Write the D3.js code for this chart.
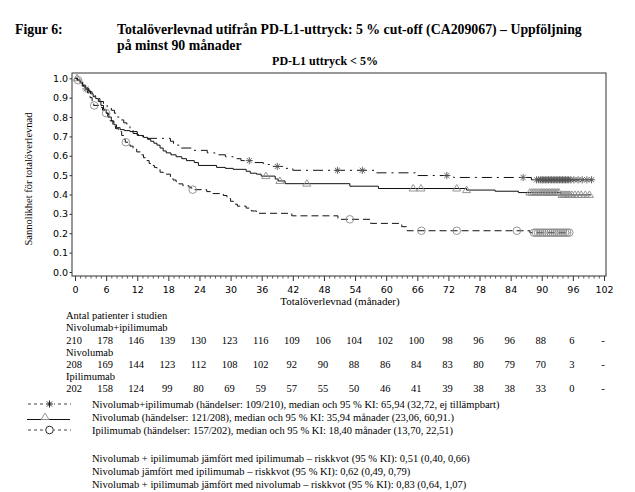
<!DOCTYPE html>
<html>
<head>
<meta charset="utf-8">
<script src="https://cdn.jsdelivr.net/npm/d3@7"></script>
<style>
  body { margin: 0; background: #fff; }
  text { font-family: "Liberation Serif", "Times New Roman", serif; fill: #000; }
  .tick text { font-family: "DejaVu Sans", Verdana, sans-serif; }
</style>
</head>
<body>
<svg id="chart" width="635" height="492"></svg>
<script>
// ticks
const xTicks = [0, 6, 12, 18, 24, 30, 36, 42, 48, 54, 60, 66, 72, 78, 84, 90, 96, 102];
const yTicks = [0, 0.1, 0.2, 0.3, 0.4, 0.5, 0.6, 0.7, 0.8, 0.9, 1.0];

// Kaplan-Meier steps (months, survival)
const combTimes = [0, 0.5, 1.0, 1.5, 2.0, 2.7, 3.3, 4.0, 4.8, 5.5, 6.2, 7.0, 7.6, 8.2, 8.8, 9.4, 10.0, 10.6, 11.2, 12.0, 13.0, 13.8, 18.4, 19.0, 20.2, 22.5, 25.5, 27.0, 29.0, 30.5, 32.0, 34.5, 36.3, 37.5, 40.5, 42.0, 58.0, 65.9, 73.0, 88.0, 99.8];
const combSurv  = [1.0, 0.99, 0.975, 0.96, 0.945, 0.93, 0.91, 0.895, 0.88, 0.865, 0.85, 0.835, 0.82, 0.80, 0.785, 0.77, 0.755, 0.74, 0.725, 0.71, 0.70, 0.69, 0.675, 0.655, 0.64, 0.628, 0.615, 0.605, 0.595, 0.585, 0.575, 0.565, 0.555, 0.545, 0.535, 0.525, 0.512, 0.498, 0.488, 0.476, 0.476];
const combCens  = [2.1, 33.6, 39.0, 50.6, 55.4, 71.7, 86.4, 89.0, 89.4, 89.8, 90.1, 90.4, 90.7, 91.0, 91.3, 91.6, 91.9, 92.2, 92.5, 92.8, 93.1, 93.4, 93.7, 94.0, 94.3, 94.6, 94.9, 95.2, 95.6, 96.2, 97.0, 97.8, 98.7, 99.6];

const nivoTimes = [0, 0.5, 1.0, 1.5, 2.0, 2.6, 3.0, 3.5, 4.0, 4.5, 5.0, 5.5, 6.0, 6.5, 7.0, 7.5, 8.0, 8.7, 9.5, 10.6, 11.2, 12.0, 13.2, 14.0, 14.6, 15.2, 15.8, 16.4, 17.0, 17.6, 18.5, 19.5, 20.6, 21.5, 23.0, 23.8, 27.3, 29.0, 30.5, 33.0, 33.8, 35.0, 35.9, 38.6, 39.2, 40.5, 53.0, 58.5, 75.5, 81.0, 85.5, 93.7, 99.5];
const nivoSurv  = [1.0, 0.99, 0.98, 0.965, 0.95, 0.935, 0.92, 0.905, 0.895, 0.88, 0.86, 0.84, 0.82, 0.80, 0.78, 0.76, 0.745, 0.735, 0.73, 0.725, 0.715, 0.705, 0.695, 0.685, 0.675, 0.665, 0.655, 0.64, 0.625, 0.615, 0.605, 0.595, 0.585, 0.575, 0.565, 0.55, 0.54, 0.535, 0.53, 0.52, 0.51, 0.505, 0.495, 0.48, 0.47, 0.456, 0.443, 0.431, 0.423, 0.417, 0.41, 0.398, 0.398];
const nivoCens  = [0.4, 36.8, 39.5, 44.7, 65.2, 66.7, 73.6, 75.5, 87.7, 88.1, 88.5, 88.9, 89.3, 89.7, 90.0, 90.3, 90.6, 90.9, 91.2, 91.5, 91.8, 92.1, 92.4, 92.7, 93.0, 93.3, 93.9, 94.2, 94.5, 94.8, 95.1, 95.4, 95.8, 96.4, 97.0, 97.6, 98.4, 99.2];

const ipiTimes = [0, 0.4, 0.9, 1.4, 1.9, 2.4, 2.9, 3.3, 3.6, 4.8, 5.3, 5.8, 6.3, 6.8, 7.3, 7.8, 8.4, 9.0, 9.5, 9.7, 10.6, 11.2, 11.9, 12.6, 13.2, 13.8, 14.3, 14.8, 15.3, 15.8, 16.4, 17.0, 18.4, 18.9, 19.5, 20.0, 20.8, 22.0, 22.5, 25.4, 26.3, 28.6, 29.3, 30.0, 30.6, 31.3, 33.0, 34.0, 35.0, 41.8, 50.7, 57.0, 63.0, 64.0, 87.7, 95.5];
const ipiSurv  = [1.0, 0.99, 0.975, 0.96, 0.945, 0.925, 0.90, 0.875, 0.86, 0.85, 0.835, 0.82, 0.80, 0.78, 0.755, 0.74, 0.725, 0.705, 0.685, 0.67, 0.65, 0.635, 0.62, 0.605, 0.59, 0.575, 0.56, 0.55, 0.54, 0.53, 0.515, 0.505, 0.49, 0.475, 0.465, 0.455, 0.445, 0.435, 0.425, 0.415, 0.405, 0.395, 0.38, 0.365, 0.35, 0.34, 0.33, 0.315, 0.303, 0.29, 0.272, 0.251, 0.234, 0.213, 0.203, 0.203];
const ipiCens  = [0.6, 3.7, 6.0, 9.8, 22.7, 53.0, 66.8, 73.6, 85.2, 88.5, 88.9, 89.3, 89.7, 90.1, 90.5, 90.9, 91.3, 91.7, 92.1, 92.5, 92.9, 93.3, 93.7, 94.1, 94.5, 94.9, 95.3];

// numbers at risk
const atRiskComb = ["210", "178", "146", "139", "130", "123", "116", "109", "106", "104", "102", "100", "98", "96", "96", "88", "6", "-"];
const atRiskNivo = ["208", "169", "144", "123", "112", "108", "102", "92", "90", "88", "86", "84", "83", "80", "79", "70", "3", "-"];
const atRiskIpi  = ["202", "158", "124", "99", "80", "69", "59", "57", "55", "50", "46", "41", "39", "38", "38", "33", "0", "-"];

const legendTexts = [
  "Nivolumab+ipilimumab (händelser: 109/210), median och 95 % KI: 65,94 (32,72, ej tillämpbart)",
  "Nivolumab (händelser: 121/208), median och 95 % KI: 35,94 månader (23,06, 60,91.)",
  "Ipilimumab (händelser: 157/202), median och 95 % KI: 18,40 månader (13,70, 22,51)"
];
const hazardTexts = [
  "Nivolumab + ipilimumab jämfört med ipilimumab – riskkvot (95 % KI): 0,51 (0,40, 0,66)",
  "Nivolumab jämfört med ipilimumab – riskkvot (95 % KI): 0,62 (0,49, 0,79)",
  "Nivolumab + ipilimumab jämfört med nivolumab – riskkvot (95 % KI): 0,83 (0,64, 1,07)"
];

const svg = d3.select("#chart");

const x = d3.scaleLinear().domain([0, 102]).range([75, 604]);
const y = d3.scaleLinear().domain([0, 1]).range([272, 78.3]);

const frame = { left: 72, top: 73, right: 606, bottom: 276 };
const markGray = "#8a8a8a";

// titles
svg.append("text").attr("x", 15).attr("y", 34)
  .style("font-weight", "bold").style("font-size", "13.8px").text("Figur 6:");
svg.append("text").attr("x", 117).attr("y", 34)
  .style("font-weight", "bold").style("font-size", "13.8px")
  .text("Totalöverlevnad utifrån PD-L1-uttryck: 5 % cut-off (CA209067) – Uppföljning");
svg.append("text").attr("x", 117).attr("y", 50)
  .style("font-weight", "bold").style("font-size", "13.8px").text("på minst 90 månader");
svg.append("text").attr("x", 325).attr("y", 65).attr("text-anchor", "middle")
  .style("font-weight", "bold").style("font-size", "12px").text("PD-L1 uttryck < 5%");

// frame
svg.append("rect")
  .attr("x", frame.left).attr("y", frame.top)
  .attr("width", frame.right - frame.left).attr("height", frame.bottom - frame.top)
  .attr("fill", "none").attr("stroke", "#333").attr("stroke-width", 1);

// x axis
const xAxis = svg.append("g")
  .attr("transform", `translate(0,${frame.bottom})`)
  .call(d3.axisBottom(x).tickValues(xTicks).tickSize(5).tickPadding(5.5).tickFormat(d3.format("d")));
xAxis.select(".domain").remove();
xAxis.selectAll(".tick line").attr("stroke", "#333");
xAxis.selectAll("text").style("font-size", "9.5px");

const minorTicks = d3.range(0, 103).filter(d => d % 6 !== 0);
const xMinor = svg.append("g")
  .attr("transform", `translate(0,${frame.bottom})`)
  .call(d3.axisBottom(x).tickValues(minorTicks).tickSize(2.5).tickFormat(""));
xMinor.select(".domain").remove();
xMinor.selectAll(".tick line").attr("stroke", "#555");

// y axis
const yAxis = svg.append("g")
  .attr("transform", `translate(${frame.left},0)`)
  .call(d3.axisLeft(y).tickValues(yTicks).tickSize(2.5).tickPadding(1.5).tickFormat(d3.format(".1f")));
yAxis.select(".domain").remove();
yAxis.selectAll(".tick line").attr("stroke", "#333");
yAxis.selectAll("text").style("font-size", "9.5px");

svg.append("text")
  .attr("transform", "translate(32,179) rotate(-90)")
  .attr("text-anchor", "middle").style("font-size", "10.5px")
  .text("Sannolikhet för totalöverlevnad");

svg.append("text").attr("x", 340).attr("y", 305).attr("text-anchor", "middle")
  .style("font-size", "11px").text("Totalöverlevnad (månader)");

// curves
function stepData(times, surv) {
  return times.map((t, i) => ({ t: t, s: surv[i] }));
}
function survAt(times, surv, t) {
  let s = surv[0];
  times.forEach((tt, i) => { if (tt <= t) s = surv[i]; });
  return s;
}

const line = d3.line()
  .x(d => x(d.t))
  .y(d => y(d.s))
  .curve(d3.curveStepAfter);

const series = [
  { key: "ipi", times: ipiTimes, surv: ipiSurv, cens: ipiCens, dash: "7,4", mark: "circle" },
  { key: "nivo", times: nivoTimes, surv: nivoSurv, cens: nivoCens, dash: null, mark: "triangle" },
  { key: "comb", times: combTimes, surv: combSurv, cens: combCens, dash: "10,5,2,5", mark: "star" }
];

const plot = svg.append("g");

series.forEach(s => {
  plot.append("path")
    .datum(stepData(s.times, s.surv))
    .attr("d", line)
    .attr("fill", "none")
    .attr("stroke", "#111")
    .attr("stroke-width", 1)
    .attr("stroke-dasharray", s.dash);
});

function drawMark(g, type, cx, cy, color) {
  if (type === "circle") {
    g.append("circle").attr("cx", cx).attr("cy", cy).attr("r", 3.8)
      .attr("fill", "none").attr("stroke", color).attr("stroke-width", 0.9);
  } else if (type === "triangle") {
    g.append("path")
      .attr("d", `M${cx - 4},${cy + 2.5}L${cx},${cy - 4}L${cx + 4},${cy + 2.5}Z`)
      .attr("fill", "none").attr("stroke", color).attr("stroke-width", 0.9);
  } else {
    const r = 3.6;
    const p = `M${cx - r},${cy}L${cx + r},${cy}M${cx},${cy - r}L${cx},${cy + r}` +
      `M${cx - r * 0.7},${cy - r * 0.7}L${cx + r * 0.7},${cy + r * 0.7}` +
      `M${cx - r * 0.7},${cy + r * 0.7}L${cx + r * 0.7},${cy - r * 0.7}`;
    g.append("path").attr("d", p).attr("fill", "none").attr("stroke", color).attr("stroke-width", 0.9);
  }
}

series.forEach(s => {
  const g = plot.append("g");
  s.cens.forEach(t => {
    drawMark(g, s.mark, x(t), y(survAt(s.times, s.surv, t)), s.mark === "star" ? "#555" : markGray);
  });
});

// numbers at risk
const tableRows = [
  { y: 319, label: "Antal patienter i studien" },
  { y: 331, label: "Nivolumab+ipilimumab" },
  { y: 344, values: atRiskComb },
  { y: 356, label: "Nivolumab" },
  { y: 368, values: atRiskNivo },
  { y: 380, label: "Ipilimumab" },
  { y: 392, values: atRiskIpi }
];

tableRows.forEach(r => {
  if (r.label) {
    svg.append("text").attr("x", 66).attr("y", r.y).style("font-size", "10.5px").text(r.label);
  } else {
    svg.append("g").selectAll("text")
      .data(r.values)
      .enter()
      .append("text")
      .attr("x", (d, i) => x(xTicks[i]) - 1)
      .attr("y", r.y)
      .attr("text-anchor", "middle")
      .style("font-size", "10.5px")
      .text(d => d);
  }
});

// legend
const legendY = [404, 417, 430];
const legendMarks = ["star", "triangle", "circle"];
legendMarks.forEach((m, i) => {
  const ly = legendY[i];
  const g = svg.append("g");
  if (m === "triangle") {
    g.append("line").attr("x1", 27).attr("x2", 70).attr("y1", ly + 2.5).attr("y2", ly + 2.5)
      .attr("stroke", "#111").attr("stroke-width", 1);
    drawMark(g, m, 45, ly, markGray);
    g.select("path").attr("fill", "#fff");
  } else {
    g.append("line").attr("x1", 28).attr("x2", 71).attr("y1", ly).attr("y2", ly)
      .attr("stroke", "#111").attr("stroke-width", 0.8).attr("stroke-dasharray", "3,3");
    g.append("rect").attr("x", 45).attr("y", ly - 5).attr("width", 9).attr("height", 10).attr("fill", "#fff");
    drawMark(g, m, 49.5, ly, "#111");
  }
  svg.append("text").attr("x", 92).attr("y", ly + 4).style("font-size", "10.5px").text(legendTexts[i]);
});

const hazardY = [458, 471, 484];
hazardTexts.forEach((t, i) => {
  svg.append("text").attr("x", 92).attr("y", hazardY[i] + 4).style("font-size", "10.5px").text(t);
});
</script>
</body>
</html>
